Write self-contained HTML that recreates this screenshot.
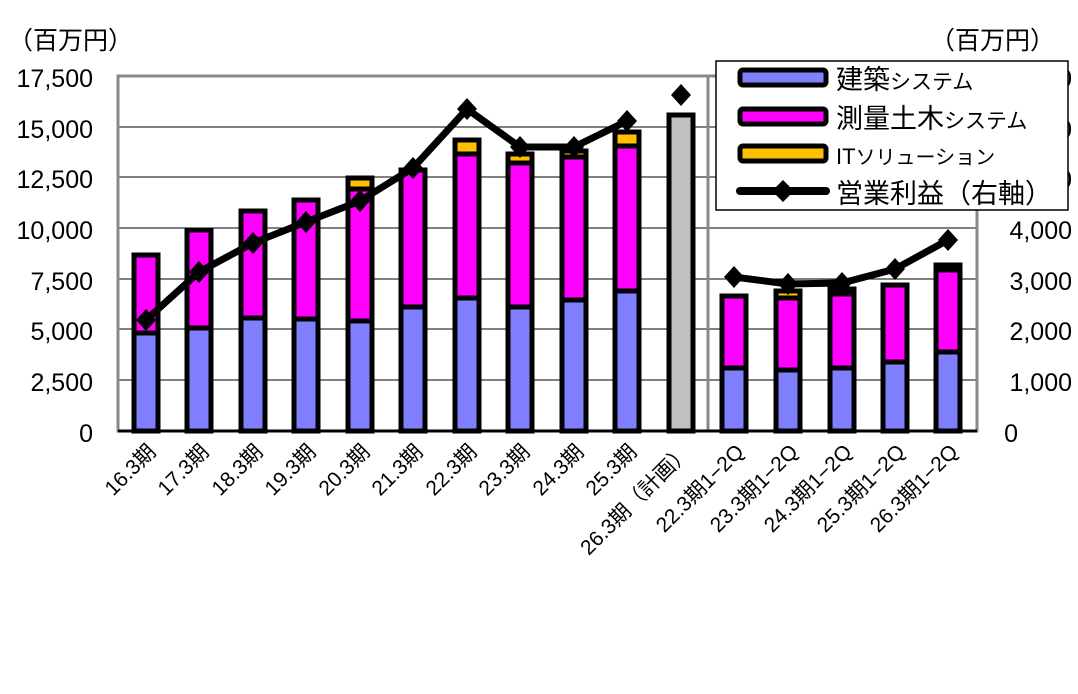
<!DOCTYPE html>
<html><head><meta charset="utf-8"><style>
body{margin:0;background:#fff}
svg text{font-family:"Liberation Sans","Noto Sans CJK JP",sans-serif}
</style></head><body>
<svg width="1078" height="689" xmlns="http://www.w3.org/2000/svg">
<rect width="1078" height="689" fill="#fff"/>
<g stroke="#000" stroke-width="1">
<line x1="118" y1="127" x2="977" y2="127"/>
<line x1="118" y1="177" x2="977" y2="177"/>
<line x1="118" y1="228" x2="977" y2="228"/>
<line x1="118" y1="279" x2="977" y2="279"/>
<line x1="118" y1="329" x2="977" y2="329"/>
<line x1="118" y1="380" x2="977" y2="380"/>
</g>
<rect x="118" y="76" width="859" height="355" fill="none" stroke="#888" stroke-width="3"/>
<line x1="708" y1="76" x2="708" y2="431" stroke="#888" stroke-width="3"/>
<line x1="118" y1="431" x2="977" y2="431" stroke="#000" stroke-width="3"/>
<g stroke="#000" stroke-width="5">
<rect x="134" y="333" width="24" height="98" fill="#8080ff"/><rect x="134" y="255" width="24" height="78" fill="#ff00ff"/>
<rect x="187" y="328" width="24" height="103" fill="#8080ff"/><rect x="187" y="230" width="24" height="98" fill="#ff00ff"/>
<rect x="241" y="318" width="24" height="113" fill="#8080ff"/><rect x="241" y="211" width="24" height="107" fill="#ff00ff"/>
<rect x="294" y="319" width="24" height="112" fill="#8080ff"/><rect x="294" y="200" width="24" height="119" fill="#ff00ff"/>
<rect x="348" y="321" width="24" height="110" fill="#8080ff"/><rect x="348" y="189" width="24" height="132" fill="#ff00ff"/><rect x="348" y="178" width="24" height="11" fill="#ffc000"/>
<rect x="401" y="307" width="24" height="124" fill="#8080ff"/><rect x="401" y="170" width="24" height="137" fill="#ff00ff"/>
<rect x="455" y="298" width="24" height="133" fill="#8080ff"/><rect x="455" y="154" width="24" height="144" fill="#ff00ff"/><rect x="455" y="140" width="24" height="14" fill="#ffc000"/>
<rect x="508" y="307" width="24" height="124" fill="#8080ff"/><rect x="508" y="163" width="24" height="144" fill="#ff00ff"/><rect x="508" y="154" width="24" height="9" fill="#ffc000"/>
<rect x="562" y="300" width="24" height="131" fill="#8080ff"/><rect x="562" y="157" width="24" height="143" fill="#ff00ff"/><rect x="562" y="151" width="24" height="6" fill="#ffc000"/>
<rect x="615" y="291" width="24" height="140" fill="#8080ff"/><rect x="615" y="146" width="24" height="145" fill="#ff00ff"/><rect x="615" y="132" width="24" height="14" fill="#ffc000"/>
<rect x="669" y="115" width="24" height="316" fill="#c0c0c0"/>
<rect x="722" y="368" width="24" height="63" fill="#8080ff"/><rect x="722" y="296" width="24" height="72" fill="#ff00ff"/>
<rect x="776" y="370" width="24" height="61" fill="#8080ff"/><rect x="776" y="298" width="24" height="72" fill="#ff00ff"/><rect x="776" y="291" width="24" height="7" fill="#ffc000"/>
<rect x="830" y="368" width="24" height="63" fill="#8080ff"/><rect x="830" y="294" width="24" height="74" fill="#ff00ff"/><rect x="830" y="289" width="24" height="5" fill="#ffc000"/>
<rect x="883" y="362" width="24" height="69" fill="#8080ff"/><rect x="883" y="285" width="24" height="77" fill="#ff00ff"/>
<rect x="936" y="352" width="24" height="79" fill="#8080ff"/><rect x="936" y="270" width="24" height="82" fill="#ff00ff"/><rect x="936" y="265" width="24" height="5" fill="#ffc000"/>
</g>
<g fill="none" stroke="#000" stroke-width="7" stroke-linejoin="round">
<polyline points="146,320 199,272 253,243 306,222 360,201 413,168 467,109 520,147 574,147 627,121"/>
<polyline points="734,277 788,284 842,283 895,269 948,240"/>
</g>
<g fill="#000">
<path d="M146,309 l10,11 -10,11 -10,-11z"/><path d="M199,261 l10,11 -10,11 -10,-11z"/>
<path d="M253,232 l10,11 -10,11 -10,-11z"/><path d="M306,211 l10,11 -10,11 -10,-11z"/>
<path d="M360,190 l10,11 -10,11 -10,-11z"/><path d="M413,157 l10,11 -10,11 -10,-11z"/>
<path d="M467,98 l10,11 -10,11 -10,-11z"/><path d="M520,136 l10,11 -10,11 -10,-11z"/>
<path d="M574,136 l10,11 -10,11 -10,-11z"/><path d="M627,110 l10,11 -10,11 -10,-11z"/>
<path d="M681,84 l10,11 -10,11 -10,-11z"/>
<path d="M734,266 l10,11 -10,11 -10,-11z"/><path d="M788,273 l10,11 -10,11 -10,-11z"/>
<path d="M842,272 l10,11 -10,11 -10,-11z"/><path d="M895,258 l10,11 -10,11 -10,-11z"/>
<path d="M948,229 l10,11 -10,11 -10,-11z"/>
</g>
<g font-size="25" text-anchor="end" fill="#000">
<text x="93" y="87">17,500</text><text x="93" y="138">15,000</text><text x="93" y="188">12,500</text>
<text x="93" y="239">10,000</text><text x="93" y="290">7,500</text><text x="93" y="340">5,000</text>
<text x="93" y="391">2,500</text><text x="93" y="442">0</text>
</g>
<text x="8" y="49" font-size="25">（百万円）</text>
<g font-size="25" text-anchor="end" fill="#000">
<text x="1072" y="87">7,000</text><text x="1072" y="138">6,000</text><text x="1072" y="188">5,000</text>
<text x="1072" y="239">4,000</text><text x="1072" y="290">3,000</text><text x="1072" y="340">2,000</text>
<text x="1072" y="391">1,000</text><text x="1018" y="442">0</text>
</g>
<text x="930" y="49" font-size="25">（百万円）</text>
<rect x="716" y="61" width="352" height="149" fill="#fff" stroke="#000" stroke-width="1.5"/>
<g stroke="#000" stroke-width="5">
<rect x="740" y="70" width="86" height="15" rx="3" fill="#8080ff"/>
<rect x="740" y="109" width="86" height="15" rx="3" fill="#ff00ff"/>
<rect x="740" y="146" width="86" height="15" rx="3" fill="#ffc000"/>
</g>
<line x1="740" y1="191" x2="826" y2="191" stroke="#000" stroke-width="8" stroke-linecap="round"/>
<path d="M783,180 l11,11 -11,11 -11,-11z"/>
<g font-size="27" fill="#000">
<text x="836" y="89">建築<tspan font-size="21">システム</tspan></text>
<text x="836" y="128">測量土木<tspan font-size="21">システム</tspan></text>
<text x="836" y="164" font-size="22">IT<tspan font-size="20">ソリューション</tspan></text>
<text x="836" y="203">営業利益（右軸）</text>
</g>
<g font-size="21" text-anchor="end" fill="#000">
<text transform="translate(157,453) rotate(-45)">16.3期</text>
<text transform="translate(210,453) rotate(-45)">17.3期</text>
<text transform="translate(264,453) rotate(-45)">18.3期</text>
<text transform="translate(317,453) rotate(-45)">19.3期</text>
<text transform="translate(371,453) rotate(-45)">20.3期</text>
<text transform="translate(424,453) rotate(-45)">21.3期</text>
<text transform="translate(478,453) rotate(-45)">22.3期</text>
<text transform="translate(531,453) rotate(-45)">23.3期</text>
<text transform="translate(585,453) rotate(-45)">24.3期</text>
<text transform="translate(638,453) rotate(-45)">25.3期</text>
<text transform="translate(692,453) rotate(-45)">26.3期（計画）</text>
<text transform="translate(745,453) rotate(-45)">22.3期1−2Q</text>
<text transform="translate(799,453) rotate(-45)">23.3期1−2Q</text>
<text transform="translate(853,453) rotate(-45)">24.3期1−2Q</text>
<text transform="translate(906,453) rotate(-45)">25.3期1−2Q</text>
<text transform="translate(959,453) rotate(-45)">26.3期1−2Q</text>
</g>
</svg>
</body></html>
